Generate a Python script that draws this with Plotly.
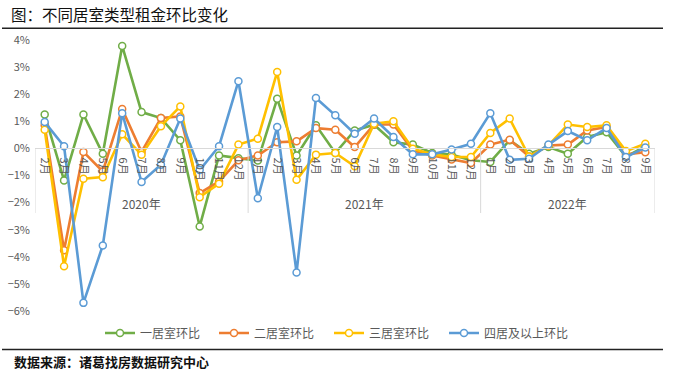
import plotly.graph_objects as go

years = ["2020年", "2021年", "2022年"]
months_2020 = ["2月", "3月", "4月", "5月", "6月", "7月", "8月", "9月", "10月", "11月", "12月"]
months_2021 = ["1月", "2月", "3月", "4月", "5月", "6月", "7月", "8月", "9月", "10月", "11月", "12月"]
months_2022 = ["1月", "2月", "3月", "4月", "5月", "6月", "7月", "8月", "9月"]
month_groups = [months_2020, months_2021, months_2022]

one_room = [1.25, -1.18, 1.25, -0.2, 3.78, 1.34, 1.12, 0.3, -2.88, -0.26, -0.36,
            -0.45, 1.83, -0.26, 0.85, -0.17, 0.66, 0.87, 0.23, 0.14, -0.17, -0.23, -0.44,
            -0.5, 0.3, -0.2, 0.05, -0.2, 0.42, 0.6, -0.3, 0.07]
two_room = [0.85, -3.76, -0.13, -0.85, 1.45, -0.13, 1.12, 1.18, -1.65, -1.22, -0.44,
            -0.26, 0.23, 0.26, 0.75, 0.69, 0.05, 0.88, 0.88, -0.07, -0.26, -0.41, -0.54,
            0.14, 0.32, -0.3, 0.11, 0.14, 0.66, 0.79, -0.22, -0.14]
three_room = [0.69, -4.35, -1.12, -1.06, 0.52, -0.23, 0.82, 1.55, -1.8, -1.3, 0.14,
              0.36, 2.82, -1.16, -0.23, -0.17, -0.66, 0.91, 1.0, -0.01, -0.22, -0.32, -0.32,
              0.57, 1.1, -0.3, 0.11, 0.88, 0.79, 0.85, -0.1, 0.17]
four_room = [0.97, 0.08, -5.7, -3.58, 1.3, -1.24, -0.6, 1.1, -0.8, 0.08, 2.48,
             -1.84, 0.79, -4.58, 1.86, 1.22, 0.54, 1.1, 0.42, -0.22, -0.22, -0.04, 0.17,
             1.3, -0.42, -0.38, 0.14, 0.64, 0.3, 0.75, -0.32, 0.03]

series_names = ["一居室环比", "二居室环比", "三居室环比", "四居及以上环比"]
series_values = [one_room, two_room, three_room, four_room]
series_colors = ["#70AD47", "#ED7D31", "#FFC000", "#5B9BD5"]

y_ticks = [4, 3, 2, 1, 0, -1, -2, -3, -4, -5, -6]

month_labels = [m for g in month_groups for m in g]
xs = list(range(len(month_labels)))

W, H = 674, 373
ml, mr, mt, mb = 35, 19, 40, 62
pw, ph = W - ml - mr, H - mt - mb

def px_x(px):
    return (px - ml) / pw

def px_y(py):
    return (H - mb - py) / ph

legend_ids = ["legend", "legend2", "legend3", "legend4"]
legend_left_px = [100, 214, 329, 444]

fig = go.Figure()
for name, vals, col, lid in zip(series_names, series_values, series_colors, legend_ids):
    fig.add_trace(go.Scatter(
        x=xs, y=vals, name=name, mode="lines+markers", legend=lid,
        line=dict(color=col, width=2.6),
        marker=dict(symbol="circle", size=7, color="white", line=dict(color=col, width=1.5)),
    ))

ymin, ymax = -6, 4
zero_pos = (0 - ymin) / (ymax - ymin)

shapes = []
annotations = []
start = 0
bounds = [-0.5]
for yr, g in zip(years, month_groups):
    end = start + len(g) - 1
    bounds.append(end + 0.5)
    annotations.append(dict(x=(start + end) / 2, y=px_y(203), xref="x", yref="paper",
                            text=yr, showarrow=False, xanchor="center", yanchor="middle",
                            font=dict(size=12, color="#595959")))
    start = end + 1
for b in bounds:
    shapes.append(dict(type="line", xref="x", yref="paper", x0=b, x1=b,
                       y0=zero_pos, y1=px_y(213), line=dict(color="#d9d9d9", width=1)))

shapes.append(dict(type="line", xref="paper", yref="paper", x0=px_x(2), x1=px_x(663),
                   y0=px_y(28.3), y1=px_y(28.3), line=dict(color="#222222", width=1.5)))
shapes.append(dict(type="line", xref="paper", yref="paper", x0=px_x(2), x1=px_x(663),
                   y0=px_y(349.5), y1=px_y(349.5), line=dict(color="#222222", width=1.5)))

annotations.append(dict(x=px_x(9), y=px_y(13.5), xref="paper", yref="paper",
                        text="图：不同居室类型租金环比变化", showarrow=False,
                        xanchor="left", yanchor="middle",
                        font=dict(size=15.5, color="#111111", family="Noto Sans CJK SC")))
annotations.append(dict(x=px_x(12), y=px_y(361), xref="paper", yref="paper",
                        text="<b>数据来源：诸葛找房数据研究中心</b>", showarrow=False,
                        xanchor="left", yanchor="middle",
                        font=dict(size=13, color="#111111", family="Noto Sans CJK SC")))

legend_common = dict(orientation="h", xanchor="left", y=px_y(333), yanchor="middle",
                     font=dict(size=12, color="#595959"), bgcolor="rgba(0,0,0,0)")
legend_layout = {lid: dict(x=px_x(lx), **legend_common) for lid, lx in zip(legend_ids, legend_left_px)}

fig.update_layout(
    width=W, height=H,
    margin=dict(l=ml, r=mr, t=mt, b=mb, autoexpand=False),
    paper_bgcolor="white", plot_bgcolor="white",
    font=dict(family="Noto Sans CJK SC, Noto Sans, sans-serif", color="#595959", size=11),
    showlegend=True,
    xaxis=dict(range=[-0.5, len(xs) - 0.5], tickvals=xs, ticktext=month_labels,
               tickangle=90, anchor="free", position=zero_pos, showline=True,
               linecolor="#d9d9d9", linewidth=1, showgrid=False, zeroline=False,
               ticks="", tickfont=dict(size=11, color="#595959"), automargin=False,
               ticklabelstandoff=6, fixedrange=True),
    yaxis=dict(range=[ymin, ymax], tickvals=y_ticks,
               ticktext=[f"{v}%" if v >= 0 else f"\u2212{abs(v)}%" for v in y_ticks],
               showgrid=False, zeroline=False, showline=False, ticks="",
               tickfont=dict(size=11, color="#595959"), automargin=False, ticklabelstandoff=4,
               fixedrange=True),
    shapes=shapes,
    annotations=annotations,
    **legend_layout,
)

fig.write_html("out.html", config={"displayModeBar": False},
               post_script="document.body.style.margin='0px';document.body.style.padding='0px';")
